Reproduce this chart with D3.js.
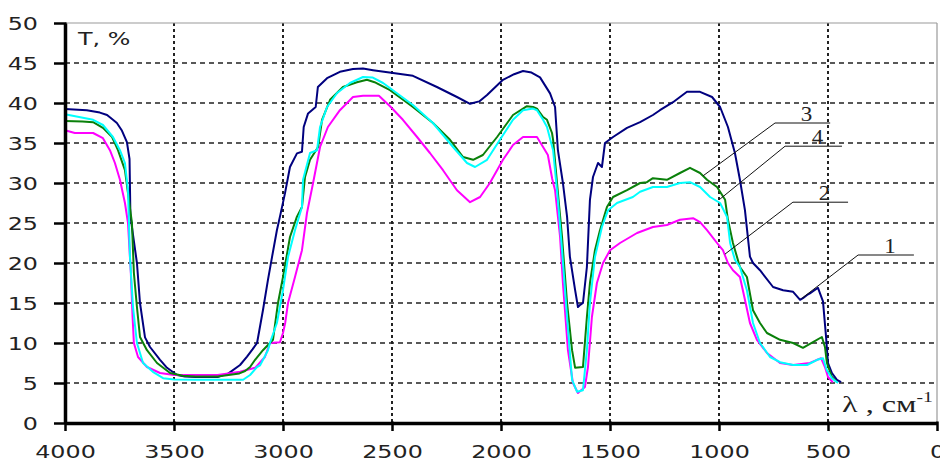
<!DOCTYPE html>
<html>
<head>
<meta charset="utf-8">
<script src="https://cdn.jsdelivr.net/npm/d3@7"></script>
<style>
  html, body { margin: 0; padding: 0; background: #fff; }
  svg { display: block; }
</style>
</head>
<body>
<svg id="chart" width="940" height="464"></svg>
<script>
// Axis tick values
const xTicks = [4000, 3500, 3000, 2500, 2000, 1500, 1000, 500, 0];
const yTicks = [0, 5, 10, 15, 20, 25, 30, 35, 40, 45, 50];

// IR transmission spectra: [wavenumber cm^-1, T %]
const spectrum1 = [[4000,39.25],[3900,39.1],[3840,38.8],[3807,38.5],[3780,37.9],[3762,37.5],[3740,36.6],[3716,35.1],[3704,33],[3700,26],[3688,23.5],[3670,20],[3656,15],[3633,10.7],[3610,9.5],[3564,7.9],[3532,6.9],[3486,6.0],[3450,5.8],[3400,5.75],[3300,5.75],[3250,6.2],[3197,7.25],[3165,8.3],[3140,9.2],[3119,10],[3092,14.1],[3069,17.9],[3050,20.8],[3028,24.1],[3014,25.8],[2991,28.7],[2968,32],[2936,33.7],[2913,33.9],[2905,37],[2885,38.7],[2850,39.5],[2840,42],[2798,43.1],[2739,43.9],[2679,44.25],[2633,44.3],[2587,44.1],[2495,43.75],[2404,43.4],[2294,42],[2202,40.75],[2142,39.9],[2100,40.2],[2064,41],[1991,42.9],[1940,43.6],[1899,44.0],[1860,43.8],[1821,43.2],[1775,41.2],[1752,39.5],[1739,34.1],[1716,30],[1697,25.8],[1684,20.8],[1660,16.6],[1647,14.5],[1635,14.8],[1624,15],[1606,19.5],[1592,27.9],[1578,30.75],[1555,32.5],[1537,32],[1523,35],[1486,35.75],[1422,36.9],[1362,37.6],[1303,38.5],[1271,39.1],[1211,40.1],[1147,41.4],[1087,41.4],[1032,40.75],[995,39.5],[959,37],[927,33.75],[904,30.4],[881,26.6],[858,20.8],[844,20],[812,19.1],[752,17],[706,16.6],[660,16.4],[628,15.4],[615,15.6],[596,16],[583,16.2],[546,16.9],[523,15.2],[509,10.8],[500,7.5],[482,6.25],[459,5.4],[440,5.1]];

const spectrum2 = [[4000,36.6],[3955,36.25],[3871,36.25],[3826,35.6],[3794,34.1],[3771,32.5],[3748,30.4],[3725,27.5],[3711,25],[3698,18.75],[3690,13.25],[3684,10],[3665,8.25],[3624,7],[3564,6.25],[3500,6.0],[3300,6.0],[3197,6.4],[3128,6.9],[3083,8.25],[3060,10],[3014,10.1],[3000,11.25],[2990,12.5],[2977,15],[2945,18.25],[2913,21.6],[2890,26.25],[2862,30],[2830,34.5],[2794,37],[2739,39.1],[2679,40.75],[2633,40.9],[2560,40.9],[2509,39.6],[2450,37.9],[2385,35.75],[2326,33.75],[2266,31.6],[2202,29.1],[2142,27.6],[2096,28.25],[2051,30],[1991,32.9],[1945,34.75],[1899,35.75],[1835,35.75],[1807,34.5],[1785,33.5],[1765,30.5],[1752,29.1],[1729,23.25],[1716,17.5],[1693,9.1],[1670,5],[1647,3.75],[1615,4.5],[1601,7],[1583,13.25],[1560,17.5],[1532,20],[1500,21.6],[1454,22.5],[1376,23.75],[1303,24.5],[1239,24.75],[1179,25.4],[1119,25.6],[1087,25.1],[1055,24.1],[1009,22.5],[982,21.6],[959,20],[936,19.1],[904,18.25],[881,15.4],[858,12.5],[826,10.4],[780,8.75],[720,7.5],[660,7.25],[583,7.5],[532,8.1],[514,7],[500,5.75],[478,5.1]];

const spectrum3 = [[4000,37.75],[3920,37.7],[3871,37.6],[3826,36.9],[3784,35.75],[3757,34.1],[3725,31.6],[3711,28.75],[3693,25],[3684,18.75],[3670,14.5],[3656,10.75],[3624,9.1],[3578,7.5],[3518,6.25],[3460,5.9],[3400,5.8],[3300,5.8],[3200,6.2],[3174,6.5],[3151,7],[3128,7.9],[3092,9.1],[3060,10],[3046,10.4],[3023,15],[3000,18.25],[2968,23.25],[2936,25.8],[2913,27],[2899,30.75],[2876,32.9],[2839,34.5],[2821,37.9],[2784,40.4],[2725,42],[2661,42.6],[2615,42.9],[2580,42.6],[2509,41.6],[2404,39.5],[2312,37.5],[2234,35.4],[2174,33.25],[2128,32.9],[2083,33.5],[2018,35.75],[1945,38.5],[1881,39.6],[1853,39.5],[1835,39.3],[1807,38.25],[1789,37.9],[1766,36.25],[1761,35.4],[1743,30],[1720,23.25],[1697,15],[1674,9.1],[1660,6.9],[1624,7],[1606,13.25],[1592,17.5],[1569,21.6],[1546,24.1],[1514,27],[1486,28.25],[1422,29.1],[1362,30],[1331,30.1],[1303,30.6],[1239,30.4],[1179,31.25],[1133,31.9],[1087,31.25],[1055,30.4],[1009,29.5],[972,27.9],[959,25.4],[936,22.5],[904,19.5],[872,18.25],[844,14.1],[812,12.5],[780,11.25],[720,10.4],[660,10],[615,9.4],[569,10.1],[528,10.75],[514,9.5],[505,7.5],[482,5.75],[458,5.1]];

const spectrum4 = [[4000,38.6],[3871,37.9],[3826,37.25],[3780,35.75],[3748,34.1],[3725,32.5],[3711,29.1],[3702,20.8],[3688,14.5],[3670,10],[3642,7.5],[3597,6.4],[3550,5.6],[3500,5.45],[3400,5.4],[3300,5.4],[3183,5.4],[3151,6],[3119,7],[3105,7.2],[3069,9.1],[3060,10],[3028,12.5],[3000,16.6],[2977,20.75],[2945,24.1],[2913,27],[2908,30.4],[2876,33.75],[2844,34.1],[2830,37],[2798,39.5],[2752,41.25],[2693,42.5],[2633,43.25],[2590,43.2],[2541,42.5],[2404,39.75],[2312,37.5],[2220,34.5],[2156,32.5],[2119,32],[2064,32.9],[2005,35.4],[1945,37.9],[1899,39.1],[1853,39.3],[1835,39.1],[1807,37.9],[1789,37],[1761,34.1],[1739,27.9],[1720,21.6],[1697,13.25],[1674,5.4],[1651,3.9],[1624,4.1],[1606,9.1],[1592,15],[1569,20.75],[1537,24.5],[1509,26.6],[1468,27.5],[1395,28.25],[1362,28.9],[1303,29.5],[1239,29.5],[1179,30],[1133,30.1],[1087,29.5],[1041,28.25],[995,27.5],[963,25.75],[949,22.5],[927,20.4],[904,19.5],[872,16.6],[844,12.5],[812,10],[766,8.25],[720,7.6],[660,7.25],[596,7.25],[550,7.9],[523,8.1],[505,6.6],[482,5.6],[454,5]];

// Curve labels: name, point on curve [wn, T], elbow [wn, T], end of underline (wn)
const curveLabels = ["1", "2", "3", "4"];
const labelCurvePoints = [[619, 15.6], [973, 21.1], [1073, 30.9], [995, 28]];
const labelElbows = [[362, 21], [661, 27.6], [743, 37.5], [697, 34.6]];
const labelLineEnds = [106, 408, 490, 436];

const seriesList = [
  { data: spectrum1, color: "#00007f" },
  { data: spectrum2, color: "#ff00ff" },
  { data: spectrum3, color: "#0a800a" },
  { data: spectrum4, color: "#00ffff" }
];

const svg = d3.select("#chart");
const plotLeft = 65, plotRight = 937, plotTop = 23, plotBottom = 423;

const x = d3.scaleLinear().domain([4000, 0]).range([plotLeft, plotRight]);
const y = d3.scaleLinear().domain([0, 50]).range([plotBottom, plotTop]);

// Horizontal dashed grid
svg.append("g").selectAll("line")
  .data(yTicks.filter(v => v > 0 && v < 50))
  .join("line")
  .attr("x1", plotLeft).attr("x2", plotRight)
  .attr("y1", d => y(d)).attr("y2", d => y(d))
  .attr("stroke", "#222").attr("stroke-width", 1.6)
  .attr("stroke-dasharray", "5,4");

// Vertical dotted grid
svg.append("g").selectAll("line")
  .data(xTicks.filter(v => v > 0 && v < 4000))
  .join("line")
  .attr("x1", d => x(d)).attr("x2", d => x(d))
  .attr("y1", plotTop).attr("y2", plotBottom)
  .attr("stroke", "#222").attr("stroke-width", 2)
  .attr("stroke-dasharray", "3,3");

// Plot frame (top and right)
svg.append("line").attr("x1", plotLeft).attr("x2", plotRight).attr("y1", y(50)).attr("y2", y(50))
  .attr("stroke", "#999").attr("stroke-width", 1.2);
svg.append("line").attr("x1", x(0)).attr("x2", x(0)).attr("y1", plotTop).attr("y2", plotBottom)
  .attr("stroke", "#999").attr("stroke-width", 1.2);

// Spectra
const line = d3.line().x(d => x(d[0])).y(d => y(d[1]));
svg.append("g").selectAll("path")
  .data(seriesList)
  .join("path")
  .attr("d", d => line(d.data))
  .attr("fill", "none")
  .attr("stroke", d => d.color)
  .attr("stroke-width", 2)
  .attr("stroke-linejoin", "round");

// Curve label leaders
const lg = svg.append("g");
curveLabels.forEach((name, i) => {
  const p = labelCurvePoints[i], e = labelElbows[i];
  lg.append("polyline")
    .attr("points", [[x(p[0]), y(p[1])], [x(e[0]), y(e[1])], [x(labelLineEnds[i]), y(e[1])]].map(q => q.join(",")).join(" "))
    .attr("fill", "none").attr("stroke", "#111").attr("stroke-width", 1);
  const cx = (x(e[0]) + x(labelLineEnds[i])) / 2 + 4;
  lg.append("text")
    .attr("transform", `translate(${cx},${y(e[1]) - 2}) scale(1.15,1)`)
    .attr("text-anchor", "middle")
    .attr("font-family", "Liberation Serif, serif")
    .attr("font-size", 20)
    .attr("fill", "#222")
    .text(name);
});

// Axes
const stretch = 1.4;
const yAxis = svg.append("g")
  .attr("transform", `translate(${plotLeft},0)`)
  .call(d3.axisLeft(y).tickValues(yTicks).tickFormat(d3.format("d")).tickSize(11).tickSizeOuter(0).tickPadding(16));
const xAxis = svg.append("g")
  .attr("transform", `translate(0,${plotBottom})`)
  .call(d3.axisBottom(x).tickValues(xTicks).tickFormat(d3.format("d")).tickSize(8).tickSizeOuter(0).tickPadding(15));

[yAxis, xAxis].forEach(ax => {
  ax.select(".domain").attr("stroke", "#000").attr("stroke-width", 3.5);
  ax.selectAll(".tick line").attr("stroke", "#000").attr("stroke-width", 2.5);
  ax.selectAll(".tick text")
    .attr("font-family", "DejaVu Sans, Verdana, sans-serif")
    .attr("font-size", 17)
    .attr("fill", "#222")
    .each(function () {
      const t = d3.select(this);
      const tx = +t.attr("x") || 0, ty = +t.attr("y") || 0;
      t.attr("x", 0).attr("y", 0).attr("transform", `translate(${tx},${ty}) scale(${stretch},1)`);
    });
});
yAxis.selectAll(".tick text").attr("dy", "0.36em");
xAxis.selectAll(".tick line").attr("y1", -1.5);
yAxis.selectAll(".tick line").attr("x1", 1.5);

// Axis titles
svg.append("text")
  .attr("transform", `translate(${plotLeft + 13},${y(50) + 22}) scale(1.4,1)`)
  .attr("font-family", "DejaVu Sans, Verdana, sans-serif")
  .attr("font-size", 17)
  .attr("fill", "#222")
  .text("T, %");

const xt = svg.append("text")
  .attr("transform", `translate(${x(0) - 95},${plotBottom - 11}) scale(1.4,1)`)
  .attr("font-family", "Liberation Serif, Times New Roman, serif")
  .attr("font-size", 23)
  .attr("fill", "#222");
xt.append("tspan").text("λ , см");
xt.append("tspan").attr("font-size", 14).attr("dy", -10).text("-1");
</script>
</body>
</html>
